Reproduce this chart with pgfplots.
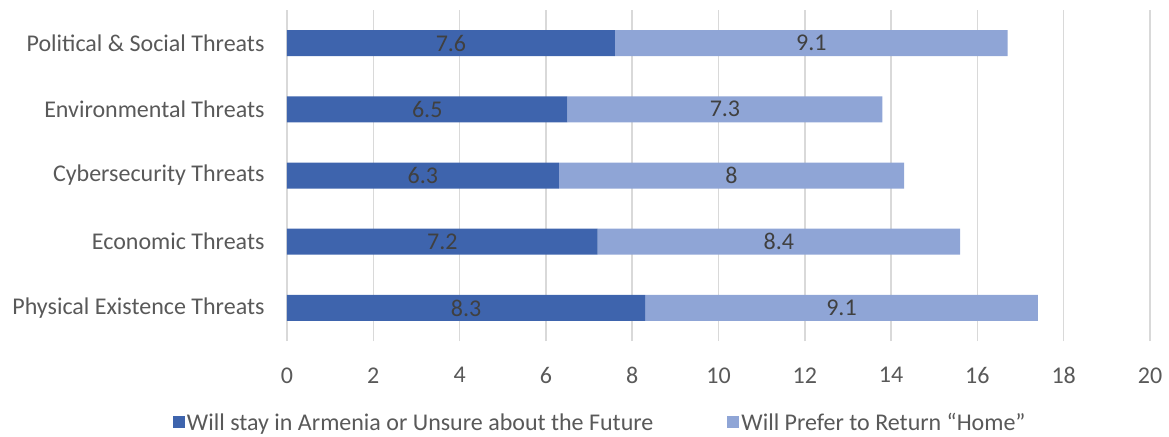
\documentclass[border=0pt]{standalone}
\usepackage{pgfplots}
\pgfplotsset{compat=1.18}
\usepackage{fontspec}
\setmainfont{Carlito}
\definecolor{dkb}{HTML}{3E64AD}
\definecolor{ltb}{HTML}{8FA5D6}
\definecolor{txt}{HTML}{595959}
\definecolor{lbl}{HTML}{404040}
\definecolor{grd}{HTML}{D9D9D9}
\begin{document}
\begin{tikzpicture}
\begin{axis}[
 at={(0,0)}, anchor=south west,
 scale only axis, width=863bp, height=331bp,
 xbar stacked, bar width=26bp,
 xmin=0, xmax=20, ymin=0.5, ymax=5.5,
 xtick={0,2,...,20},
 ytick={1,2,3,4,5},
 yticklabels={Physical Existence Threats, Economic Threats, Cybersecurity Threats, Environmental Threats, Political \& Social Threats},
 axis line style={draw=none},
 major tick length=0pt,
 xmajorgrids, grid style={grd, line width=1.5bp},
 tick label style={font=\fontsize{24bp}{28bp}\selectfont, text=txt},
 /pgf/number format/assume math mode=true,
 xticklabel style={yshift=-23bp},
 yticklabel style={xshift=-19bp},
 legend style={at={(0.363,-0.205)}, anchor=north, draw=none, legend columns=2,
   font=\fontsize{24bp}{28bp}\selectfont, text=txt,
   /tikz/every even column/.append style={column sep=72bp}},
 legend image code/.code={\fill[#1,draw=none] (0bp,-6bp) rectangle (12bp,6bp);},
 clip=false,
]
\addplot[fill=dkb, draw=none, nodes near coords, point meta=rawx,
  nodes near coords style={anchor=center, font=\fontsize{24bp}{28bp}\selectfont, text=lbl}]
  coordinates {(8.3,1) (7.2,2) (6.3,3) (6.5,4) (7.6,5)};
\addplot[fill=ltb, draw=none, nodes near coords, point meta=rawx,
  nodes near coords style={anchor=center, font=\fontsize{24bp}{28bp}\selectfont, text=lbl}]
  coordinates {(9.1,1) (8.4,2) (8,3) (7.3,4) (9.1,5)};
\legend{Will stay in Armenia or Unsure about the Future, Will Prefer to Return “Home”}
\end{axis}
\pgfresetboundingbox
\path[use as bounding box] (-287bp,-96bp) rectangle (882bp,341bp);
\end{tikzpicture}
\end{document}
